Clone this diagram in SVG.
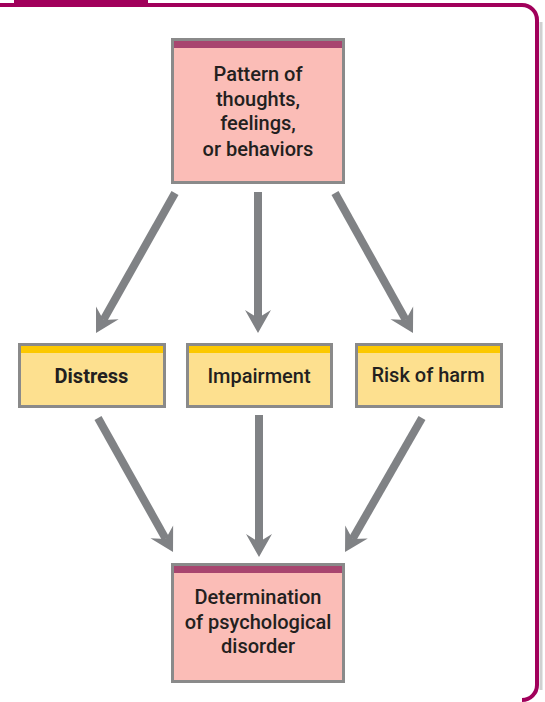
<svg xmlns="http://www.w3.org/2000/svg" width="545" height="702" viewBox="0 0 545 702">
  <defs>
    <style>
      .frame { fill: none; stroke: #a1005b; stroke-width: 4; }
      .shadow { fill: none; stroke: #d0d0d0; stroke-width: 3; }
      .box { stroke: #8a8a8a; stroke-width: 3; }
      .pink { fill: #fbbdb7; }
      .yellow { fill: #fde08f; }
      .band-m { fill: #a8456f; }
      .band-y { fill: #fcc800; }
      .lbl { font-family: Roboto, "Liberation Sans", sans-serif; font-size: 20px; font-weight: 500; fill: #231f20; text-anchor: middle; }
      .bold { font-weight: 700; }
      .conn line { stroke: #808285; stroke-width: 8; marker-end: url(#arrow); }
    </style>
    <marker id="arrow" markerUnits="userSpaceOnUse" viewBox="-1 -14 26 28" markerWidth="26" markerHeight="28" refX="8" refY="0" orient="auto">
      <path d="M0,-13 L23,0 L0,13 L8,0 Z" fill="#808285"/>
    </marker>
  </defs>

  <g id="frame">
    <rect x="14" y="0" width="134" height="4" fill="#a1005b"/>
    <path class="shadow" d="M541,22 V690"/>
    <path class="frame" d="M0,5 H522 A15,15 0 0 1 537,20 V685 A15,15 0 0 1 522,700"/>
  </g>

  <g class="conn" id="connectors">
    <line x1="175" y1="193" x2="103.4" y2="319.9"/>
    <line x1="258" y1="192" x2="258" y2="318"/>
    <line x1="335" y1="193" x2="405.7" y2="319.9"/>
    <line x1="98" y1="418" x2="165.7" y2="538.9"/>
    <line x1="259" y1="415" x2="259" y2="542"/>
    <line x1="422" y1="418" x2="352.5" y2="539"/>
  </g>

  <g id="pattern">
    <rect class="box pink" x="172.5" y="39.5" width="171" height="143"/>
    <rect class="band-m" x="174" y="41" width="168" height="7"/>
    <text class="lbl" x="258" y="81">Pattern of</text>
    <text class="lbl" x="258" y="105.5">thoughts,</text>
    <text class="lbl" x="258" y="130">feelings,</text>
    <text class="lbl" x="258" y="155.5">or behaviors</text>
  </g>

  <g id="distress">
    <rect class="box yellow" x="19.5" y="344.5" width="145" height="62"/>
    <rect class="band-y" x="21" y="346" width="142" height="7"/>
    <text class="lbl bold" x="91.5" y="383">Distress</text>
  </g>

  <g id="impairment">
    <rect class="box yellow" x="187.5" y="344.5" width="144" height="62"/>
    <rect class="band-y" x="189" y="346" width="141" height="7"/>
    <text class="lbl" x="259" y="383">Impairment</text>
  </g>

  <g id="risk">
    <rect class="box yellow" x="356.5" y="344.5" width="145" height="62"/>
    <rect class="band-y" x="358" y="346" width="142" height="7"/>
    <text class="lbl" x="428" y="382">Risk of harm</text>
  </g>

  <g id="determination">
    <rect class="box pink" x="172.5" y="564.5" width="171" height="117"/>
    <rect class="band-m" x="174" y="566" width="168" height="7"/>
    <text class="lbl" x="258" y="604">Determination</text>
    <text class="lbl" x="258" y="628.5">of psychological</text>
    <text class="lbl" x="258" y="653">disorder</text>
  </g>
</svg>
